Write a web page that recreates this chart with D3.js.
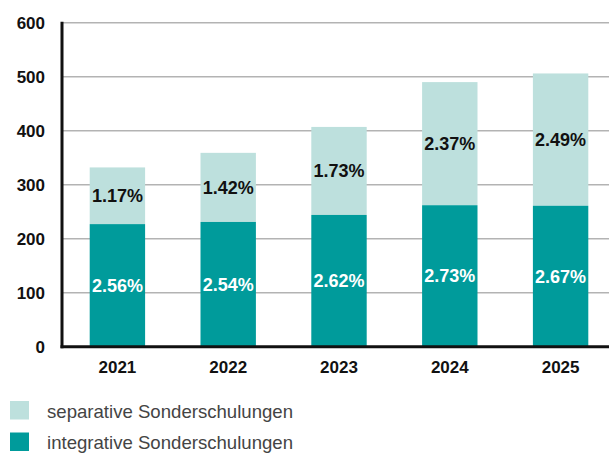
<!DOCTYPE html>
<html><head><meta charset="utf-8">
<script src="https://cdn.jsdelivr.net/npm/d3@7"></script>
<style>body{margin:0;background:#fff}svg{display:block}text{font-family:"Liberation Sans",Arial,sans-serif}</style>
</head><body>
<script>
const years = ["2021","2022","2023","2024","2025"];
const integrative = [227, 231, 244, 262, 261];
const separative = [105, 128, 163, 228, 245];
const integrativeLabels = ["2.56%","2.54%","2.62%","2.73%","2.67%"];
const separativeLabels = ["1.17%","1.42%","1.73%","2.37%","2.49%"];
const yTicks = [0,100,200,300,400,500,600];
const legendLabels = ["separative Sonderschulungen","integrative Sonderschulungen"];
const colors = {sep:"#bde0dd", int:"#009b9b"};

const W=609,H=455;
const svg=d3.select("body").append("svg").attr("width",W).attr("height",H);
const x=d3.scaleBand().domain(years).range([62,616]).paddingInner(0.5).paddingOuter(0.25);
const y=d3.scaleLinear().domain([0,600]).range([346.7,22.7]);

// gridlines
svg.append("g").selectAll("line").data(yTicks.filter(d=>d>0)).join("line")
  .attr("x1",62).attr("x2",W).attr("y1",d=>y(d)).attr("y2",d=>y(d))
  .attr("stroke","#b3b3b3").attr("stroke-width",1.5);

// bars
const g=svg.append("g");
years.forEach((yr,i)=>{
  const i0=integrative[i], s=separative[i];
  g.append("rect").attr("x",x(yr)).attr("width",x.bandwidth())
    .attr("y",y(i0+s)).attr("height",y(i0)-y(i0+s)).attr("fill",colors.sep);
  g.append("rect").attr("x",x(yr)).attr("width",x.bandwidth())
    .attr("y",y(i0)).attr("height",y(0)-y(i0)).attr("fill",colors.int);
  g.append("text").attr("x",x(yr)+x.bandwidth()/2).attr("y",(y(i0+s)+y(i0))/2)
    .attr("dy","0.36em").attr("text-anchor","middle").attr("font-weight","bold")
    .attr("font-size",18).attr("fill","#111").text(separativeLabels[i]);
  g.append("text").attr("x",x(yr)+x.bandwidth()/2).attr("y",(y(i0)+y(0))/2)
    .attr("dy","0.36em").attr("text-anchor","middle").attr("font-weight","bold")
    .attr("font-size",18).attr("fill","#fff").text(integrativeLabels[i]);
});

// y axis
const ya=svg.append("g").attr("transform","translate(62,0)")
  .call(d3.axisLeft(y).tickValues(yTicks).tickSize(0).tickPadding(17));
ya.select(".domain").remove();
ya.selectAll("text").attr("font-size",17).attr("font-weight","bold").attr("fill","#111")
  .style("font-family","'Liberation Sans',Arial,sans-serif");
svg.append("line").attr("x1",62).attr("x2",62).attr("y1",y(600)-1).attr("y2",y(0)+1.5)
  .attr("stroke","#111").attr("stroke-width",3);

// x axis
const xa=svg.append("g").attr("transform",`translate(0,${y(0)})`)
  .call(d3.axisBottom(x).tickSize(0).tickPadding(14));
xa.select(".domain").remove();
xa.selectAll("text").attr("font-size",17).attr("font-weight","bold").attr("fill","#111")
  .style("font-family","'Liberation Sans',Arial,sans-serif");
svg.append("line").attr("x1",60.5).attr("x2",W).attr("y1",y(0)).attr("y2",y(0))
  .attr("stroke","#111").attr("stroke-width",3);

// legend
const leg=svg.append("g");
[[colors.sep,401],[colors.int,432.5]].forEach(([c,ty],i)=>{
  leg.append("rect").attr("x",10).attr("y",ty).attr("width",19).attr("height",18.5).attr("fill",c);
  leg.append("text").attr("x",47).attr("y",ty+10).attr("dy","0.36em")
    .attr("font-size",18.6).attr("fill","#444").text(legendLabels[i]);
});
</script>
</body></html>
